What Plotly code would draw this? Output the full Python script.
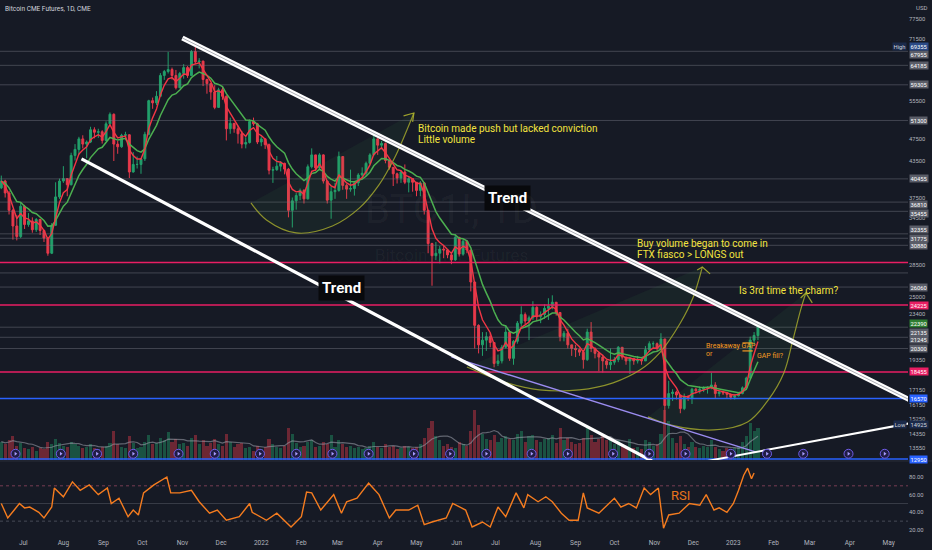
import math
import pandas as pd
import plotly.graph_objects as go

# ---------------- price series (3-day bars) ----------------
START = "2021-06-14"
FIRST_OPEN = 39000
closes = [
    40100, 38200, 35600, 33400, 32000, 36200, 33600, 34100, 32900, 34300,
    32800, 31800, 29900, 33500, 37600, 40100, 40500, 39500, 44500, 45600,
    47600, 46600, 47000, 49400, 48900, 49000, 47300, 50600, 52600, 46600,
    46100, 48300, 48400, 41600, 42900, 42900, 43900, 48500, 55600, 55100,
    56600, 61600, 62600, 63100, 61600, 58600, 62100, 63600, 61600, 67900,
    65100, 65300, 60600, 59600, 57600, 54100, 58100, 56600, 49600, 50700,
    49600, 48600, 46600, 46900, 51100, 50600, 47000, 47600, 46500, 41900,
    42000, 42600, 43100, 42100, 35600, 37000, 37800, 38600, 37300, 42500,
    44600, 42300, 44600, 40100, 37100, 38400, 38600, 44300, 39400, 38800,
    38900, 39800, 41100, 41400, 43100, 44600, 47600, 46400, 46700, 43600,
    42400, 41300, 40600, 41600, 39900, 40500, 39900, 38600, 39800, 35600,
    31100, 29600, 29900, 30400, 30300, 29700, 29100, 31900, 29800, 31400,
    30300, 26600, 22300, 20600, 21000, 21300, 20800, 19100, 19300, 20400,
    21700, 19500, 20900, 22500, 23300, 22700, 23000, 24000, 23100, 23300,
    23900, 24100, 24500, 23500, 21300, 21600, 20600, 20300, 20200, 20000,
    19400, 21700, 20300, 19900, 19600, 19300, 19000, 19200, 19400, 20400,
    19600, 19300, 19500, 19300, 19400, 19300, 20200, 20700, 20700, 20300,
    21100, 16100, 16900, 17000, 16800, 15900, 16700, 16600, 17200, 17100,
    17200, 17300, 17300, 17500, 16900, 17000, 16950, 16850, 16650, 16750,
    16900, 17300, 18000, 21000, 21400, 22390,
]
highs = [
    41000, 40300, 38500, 35800, 34900, 36800, 36400, 35200, 34600, 34500,
    34400, 32900, 31900, 33800, 39900, 40500, 42600, 40600, 45000, 46600,
    48000, 48300, 47300, 50000, 49900, 49600, 49300, 51100, 53000, 52800,
    47200, 48600, 49000, 48500, 45100, 44300, 44000, 49000, 55800, 56300,
    57800, 62200, 63000, 67800, 63600, 63000, 62500, 64500, 64000, 68300,
    69355, 66100, 65400, 60800, 59700, 59200, 58600, 59000, 56800, 51900,
    50800, 50200, 49100, 47900, 51500, 51900, 50800, 48100, 47700, 46700,
    42500, 44400, 43500, 43200, 42300, 37500, 38200, 38900, 38800, 42900,
    45800, 44600, 44900, 44700, 40200, 39200, 39800, 45200, 44300, 39600,
    42000, 40000, 41400, 42400, 43400, 44900, 48300, 47800, 47200, 46900,
    43600, 42400, 41500, 41800, 42900, 40800, 40600, 39900, 40100, 39900,
    35600, 31200, 31300, 30800, 30800, 30300, 29900, 32300, 31900, 31600,
    31500, 30300, 26600, 22400, 21700, 21700, 21600, 20800, 19800, 20600,
    22300, 21700, 21000, 22700, 24100, 23500, 23200, 24600, 24100, 23600,
    24300, 24900, 25200, 24500, 23500, 21800, 22000, 20600, 20600, 20300,
    20100, 22000, 22600, 20400, 20000, 19800, 19400, 20300, 19600, 20500,
    20400, 19600, 19600, 19500, 19700, 19500, 20500, 20900, 20900, 20800,
    21600, 21100, 17800, 17200, 17100, 16800, 16900, 16800, 17300, 17300,
    17400, 17400, 17400, 18400, 17700, 17100, 17100, 17000, 16900, 16850,
    16950, 17400, 18100, 21300, 21700, 22600,
]
lows = [
    38800, 37500, 35000, 31600, 31500, 31800, 33000, 33300, 32500, 32600,
    32200, 31300, 29600, 29800, 33400, 37300, 39800, 37700, 39400, 43600,
    44600, 45800, 44000, 46800, 47700, 47800, 46700, 47200, 50400, 43500,
    44800, 45900, 47300, 40600, 41500, 42200, 41300, 43500, 48300, 53800,
    54600, 56500, 60500, 62100, 60600, 58200, 58500, 60800, 61000, 61500,
    64500, 63400, 59000, 57200, 55800, 53700, 54000, 55800, 47300, 48600,
    48800, 46700, 45800, 45800, 46700, 50200, 46600, 46200, 45700, 41200,
    39800, 41800, 41700, 41200, 34600, 33200, 35700, 37100, 36600, 37200,
    42200, 41800, 41900, 39700, 36600, 34400, 37300, 38400, 38700, 37300,
    38400, 37800, 39300, 40800, 40900, 43000, 44600, 44600, 45600, 43100,
    42000, 39300, 39700, 39800, 39600, 38300, 38400, 37700, 37700, 35000,
    29900, 26200, 29100, 28700, 29300, 29300, 28600, 29000, 29500, 29600,
    29900, 25600, 20300, 19900, 19700, 20100, 20400, 18800, 18900, 19100,
    20300, 19300, 19000, 20700, 22200, 22400, 21000, 22800, 22700, 22500,
    22900, 22800, 23800, 23200, 20900, 20900, 20300, 19700, 19600, 19700,
    18700, 19300, 20000, 19500, 18500, 18400, 18700, 18600, 19000, 19200,
    19400, 19000, 18300, 19000, 19100, 19000, 19300, 20000, 20300, 20100,
    20300, 14925, 15900, 16400, 16500, 15600, 15800, 16400, 16200, 16900,
    16900, 17000, 16900, 17200, 16600, 16700, 16800, 16600, 16500, 16500,
    16700, 16850, 17200, 18000, 20600, 21000,
]
volume_k = [
    14, 12, 15, 18, 11, 13, 9, 8, 10, 7, 9, 8, 14, 12, 16, 13,
    11, 10, 14, 12, 11, 9, 10, 12, 9, 8, 10,
    11, 13, 22, 12, 10, 9, 18, 13, 9, 10,
    14, 19, 12, 13, 17, 15, 21, 14, 16, 12,
    13, 11, 17, 19, 12, 15, 11, 13, 16, 12, 11,
    20, 14, 10, 12, 13, 9, 10, 7, 11,
    8, 10, 16, 12, 10, 9, 11, 24, 20, 13, 10,
    11, 14, 15, 10, 11, 14, 12, 19, 10,
    15, 12, 10, 11, 9, 10, 8, 9, 11, 14, 10,
    9, 12, 10, 11, 8, 9, 11, 10, 9, 10,
    12, 17, 24, 30, 18, 15, 11, 12, 10, 9, 14, 12, 11,
    22, 38, 27, 20, 16, 15, 19,
    14, 17, 18, 16, 15, 20, 22, 14, 18, 19, 15,
    14, 16, 17, 19, 13, 24, 15, 17, 14, 12,
    13, 17, 25, 19, 14, 16, 18, 15, 17,
    12, 15, 11, 10, 16, 9, 10, 8, 15, 14, 11,
    12, 20, 38, 30, 17, 13, 18, 12, 10, 14,
    10, 9, 11, 10, 15, 10, 8, 7, 9, 8,
    9, 11, 14, 18, 28, 22, 24,
]

# ---------------- RSI (14) ----------------
rsi_dates = [
    "2021-06-14", "2021-06-19", "2021-06-24", "2021-06-28", "2021-07-02", "2021-07-06",
    "2021-07-13", "2021-07-17", "2021-07-23", "2021-07-25", "2021-08-01", "2021-08-08",
    "2021-08-14", "2021-08-21", "2021-08-28", "2021-09-04", "2021-09-07", "2021-09-13",
    "2021-09-20", "2021-09-24", "2021-09-28", "2021-10-02", "2021-10-10", "2021-10-20",
    "2021-10-23", "2021-10-30", "2021-11-08", "2021-11-14", "2021-11-22", "2021-11-28",
    "2021-12-05", "2021-12-15", "2021-12-23", "2021-12-25",
    "2022-01-05", "2022-01-13", "2022-01-24", "2022-02-01", "2022-02-05", "2022-02-09",
    "2022-02-16", "2022-02-26", "2022-03-04", "2022-03-08", "2022-03-16", "2022-03-25",
    "2022-04-02", "2022-04-10", "2022-04-15", "2022-04-25", "2022-05-02", "2022-05-07",
    "2022-05-13", "2022-05-24", "2022-05-29", "2022-06-08", "2022-06-13", "2022-06-21",
    "2022-06-27", "2022-07-03", "2022-07-09", "2022-07-17", "2022-07-23", "2022-07-26",
    "2022-08-03", "2022-08-09", "2022-08-14", "2022-08-21", "2022-08-27", "2022-09-03",
    "2022-09-07", "2022-09-10", "2022-09-19", "2022-10-01", "2022-10-06", "2022-10-12",
    "2022-10-18", "2022-10-24", "2022-10-29", "2022-11-04", "2022-11-08", "2022-11-12",
    "2022-11-20", "2022-11-28", "2022-12-06", "2022-12-11", "2022-12-17", "2022-12-21",
    "2022-12-27", "2023-01-01", "2023-01-05", "2023-01-09", "2023-01-12", "2023-01-15",
    "2023-01-17",
]
rsi_values = [
    50, 33.6, 42.6, 50, 45, 46, 40, 33.6, 46, 67.5, 57.6, 74.5, 65, 71, 60, 67.5, 50,
    56, 35, 42.6, 37, 62, 71, 80, 62, 62, 65, 52, 39, 42.6, 31, 35, 50, 40,
    31, 39, 23.4, 35, 63, 62, 42.6, 60, 39, 52, 56, 73, 60, 33.6, 42.6, 42.6, 48,
    26, 29, 33.6, 50, 42.6, 23.4, 29, 23.4, 46, 35, 62, 45, 60, 52, 57.6, 52, 39,
    31, 31, 62, 45, 39, 56, 46, 50, 45, 67.5, 60, 67.5, 22, 37, 39, 50, 48, 60,
    42.6, 45, 40, 50, 65, 82, 90, 78, 84.5,
]

# contract expiries (last Friday of each month)
expiry_dates = [
    "2021-06-25", "2021-07-30", "2021-08-27", "2021-09-24", "2021-10-29", "2021-11-26",
    "2021-12-31", "2022-01-28", "2022-02-25", "2022-03-25", "2022-04-29", "2022-05-27",
    "2022-06-24", "2022-07-29", "2022-08-26", "2022-09-30", "2022-10-28", "2022-11-25",
    "2022-12-30", "2023-01-27", "2023-02-24", "2023-03-31", "2023-04-28",
]

# ---------------- horizontal levels ----------------
gray_levels = [67955, 64185, 59305, 51300, 40455, 36810, 35455, 32355, 31775, 30880,
               27600, 26060, 22135, 21245, 20300]
pink_levels = [28800, 24225, 18455]
blue_levels = [16570, 12950]
last_price = 22390
range_high = 69355
range_low = 14925
price_ticks = [77500, 71500, 55500, 47500, 43500, 37500, 34500, 28500, 25000, 23400,
               19350, 17150, 16150, 15250, 14350, 13550]
rsi_ticks = [80, 60, 40, 20]

# ---------------- drawings ----------------
upper_trend = (["2021-11-01", "2023-05-19"], [71740, 16400])
lower_trend = (["2021-08-15", "2022-10-30"], [43870, 12850])
rising_line = (["2022-12-12", "2023-05-19"], [12850, 15000])
purple_line = (["2022-05-28", "2023-01-18"], [19620, 13330])

arc1 = (["2021-12-24", "2022-01-05", "2022-01-28", "2022-02-25", "2022-03-18",
         "2022-04-02", "2022-04-14", "2022-04-21", "2022-04-29"],
        [36680, 34230, 32470, 33400, 35950, 39470, 44040, 47780, 52890])
arc1_head = (["2022-04-21", "2022-04-29", "2022-04-28"], [52250, 52890, 50990])
arc2 = (["2022-06-09", "2022-07-10", "2022-08-04", "2022-09-04", "2022-09-30",
         "2022-10-21", "2022-11-05", "2022-11-21", "2022-12-01", "2022-12-08"],
        [18830, 17650, 17150, 17150, 17650, 18610, 19940, 22520, 25030, 28280])
arc2_head = (["2022-12-04", "2022-12-08", "2022-12-14"], [27940, 28280, 27490])
arc3 = (["2022-10-27", "2022-11-13", "2022-12-17", "2023-01-12", "2023-01-28",
         "2023-02-09", "2023-02-16", "2023-02-22", "2023-02-26"],
        [15370, 14880, 14580, 15060, 16470, 18380, 21020, 23750, 25440])
arc3_head = (["2023-02-22", "2023-02-26", "2023-03-03"], [24930, 25440, 24430])
gap_top = (["2023-01-08", "2023-01-16"], [20760, 20760])
gap_bottom = (["2023-01-08", "2023-01-16"], [20100, 20100])

notes = [
    # (date, price, text, colour, size)
    ("2022-05-01", 49560, "Bitcoin made push but lacked conviction", "#f2e33f", 10),
    ("2022-05-01", 47390, "Little volume", "#f2e33f", 10),
    ("2022-10-17", 31050, "Buy volume began to come in", "#f2e33f", 10),
    ("2022-10-17", 29780, "FTX fiasco &gt; LONGS out", "#f2e33f", 10),
    ("2023-01-04", 25680, "Is 3rd time the charm?", "#f2e33f", 10),
    ("2022-12-09", 20510, "Breakaway GAP", "#f59b23", 7),
    ("2022-12-09", 19890, "or", "#f59b23", 7),
    ("2023-01-18", 19700, "GAP fill?", "#f59b23", 7),
]
trend_tags = [("2022-07-10", 37440), ("2022-03-04", 25970)]
rsi_tag = ("2022-11-21", 59.6)

# ---------------- derived ----------------
dates = pd.date_range(START, periods=len(closes), freq="3D")
opens = [FIRST_OPEN] + closes[:-1]
ema_fast = pd.Series(closes).ewm(span=4, adjust=False).mean()
ema_slow = pd.Series(closes).ewm(span=10, adjust=False).mean()
vol_ma = pd.Series(volume_k).rolling(7, min_periods=1).mean()

month_ticks = pd.date_range("2021-07-01", "2023-05-01", freq="MS")
month_labels = [d.strftime("%b") if d.month != 1 else str(d.year) for d in month_ticks]

# ---------------- style ----------------
BG = "#161a25"
FONT = "Roboto"
UP = "#22a06b"
DOWN = "#e8394b"
X0, X1 = "2021-06-13", "2023-05-16"
P_TOP, P_BOTTOM = 83720, 12900
PRICE_DOM = [0.1434, 1.0]
RSI_DOM = [0.0, 0.1397]
EXPIRY_PRICE = 13230
TAG_SIZE = 5.8

fig = go.Figure()

# volume (primary y, drawn underneath the price overlay)
vol_colors = ["rgba(34,160,107,0.42)" if c >= o else "rgba(232,57,75,0.42)"
              for o, c in zip(opens, closes)]
fig.add_trace(go.Bar(x=dates, y=volume_k, marker=dict(color=vol_colors, line_width=0),
                     width=3 * 86400000 * 0.8, xaxis="x", yaxis="y"))
fig.add_trace(go.Scatter(x=dates, y=vol_ma, mode="lines",
                         line=dict(color="rgba(150,153,165,0.6)", width=1.2),
                         xaxis="x", yaxis="y"))

def price_line(xs, ys, color, width, dash=None, shape="linear", fill=None, fillcolor=None):
    fig.add_trace(go.Scatter(x=xs, y=ys, mode="lines",
                             line=dict(color=color, width=width, dash=dash, shape=shape),
                             fill=fill, fillcolor=fillcolor,
                             xaxis="x", yaxis="y3"))

for lvl in gray_levels:
    price_line([X0, X1], [lvl, lvl], "rgba(120,123,134,0.45)", 1)
for lvl in pink_levels:
    price_line([X0, X1], [lvl, lvl], "#e91e63", 1.5)
for lvl in blue_levels:
    price_line([X0, X1], [lvl, lvl], "#2962ff", 1.5)

# curved "cup" drawings with faint fill
for arc in (arc1, arc2, arc3):
    price_line(arc[0], arc[1], "rgba(170,175,45,0.8)", 1.2, shape="spline",
               fill="toself", fillcolor="rgba(76,175,80,0.07)")
for head in (arc1_head, arc2_head, arc3_head):
    price_line(head[0], head[1], "rgba(170,175,45,0.9)", 1.2)

fig.add_trace(go.Candlestick(
    x=dates, open=opens, high=highs, low=lows, close=closes,
    increasing=dict(line=dict(color=UP, width=1), fillcolor=UP),
    decreasing=dict(line=dict(color=DOWN, width=1), fillcolor=DOWN),
    whiskerwidth=0, xaxis="x", yaxis="y3"))
price_line(dates, ema_slow, "#4caf50", 1.5)
price_line(dates, ema_fast, "#f23645", 1.4)

price_line(purple_line[0], purple_line[1], "#9b8cf0", 1.4)
price_line(gap_top[0], gap_top[1], "#f59b23", 1.2)
price_line(gap_bottom[0], gap_bottom[1], "#f59b23", 1.2)

# trend lines
price_line(upper_trend[0], upper_trend[1], "#ffffff", 5)
price_line(upper_trend[0], upper_trend[1], "#a9abb3", 1)
price_line(lower_trend[0], lower_trend[1], "#ffffff", 3.2)
price_line(rising_line[0], rising_line[1], "#ffffff", 2)

# expiry markers
fig.add_trace(go.Scatter(x=expiry_dates, y=[EXPIRY_PRICE] * len(expiry_dates), mode="markers",
                         marker=dict(symbol="circle", size=9, color="#201d44",
                                     line=dict(color="#6f5ce6", width=1)),
                         xaxis="x", yaxis="y3"))
fig.add_trace(go.Scatter(x=expiry_dates, y=[EXPIRY_PRICE] * len(expiry_dates), mode="markers",
                         marker=dict(symbol="triangle-right", size=3.5, color="#a99cff"),
                         xaxis="x", yaxis="y3"))

# RSI pane
for lvl, col, dash in ((70, "rgba(200,90,120,0.55)", "dot"),
                       (50, "rgba(120,123,134,0.35)", "solid"),
                       (30, "rgba(120,123,134,0.5)", "dot")):
    fig.add_trace(go.Scatter(x=[X0, X1], y=[lvl, lvl], mode="lines",
                             line=dict(color=col, width=1, dash=dash),
                             xaxis="x2", yaxis="y2"))
fig.add_trace(go.Scatter(x=rsi_dates, y=rsi_values, mode="lines",
                         line=dict(color="#f57c1f", width=1.4),
                         xaxis="x2", yaxis="y2"))

# ---------------- annotations ----------------
ann = []
L = math.log10

def axis_tag(value, bg, text=None, yshift=0, anchor="left", fg="#ffffff"):
    ann.append(dict(xref="paper", x=1, xanchor=anchor, xshift=1 if anchor == "left" else -1,
                    yref="y3", y=L(value), yshift=yshift, text=text or str(value),
                    showarrow=False, bgcolor=bg, borderpad=0.5,
                    font=dict(family=FONT, size=TAG_SIZE, color=fg)))

shifts = {67955: -3, 36810: -2, 35455: -2, 32355: 4, 22135: -5, 21245: -2}
for lvl in gray_levels:
    if lvl == 27600:
        continue
    axis_tag(lvl, "#5a5d68", yshift=shifts.get(lvl, 0))
for lvl in pink_levels[1:]:
    axis_tag(lvl, "#e91e63")
for lvl in blue_levels:
    axis_tag(lvl, "#2962ff")
axis_tag(last_price, "#2e7d32", yshift=1)
axis_tag(range_high, "#2b4a86")
axis_tag(range_high, "#1b2a4a", text="High", anchor="right", fg="#d1d4dc")
axis_tag(range_low, "#1b2a4a", fg="#d1d4dc")
axis_tag(range_low, "#1b2a4a", text="Low", anchor="right", fg="#d1d4dc")

for d, p, t, c, s in notes:
    ann.append(dict(xref="x", yref="y3", x=d, y=L(p), text=t, showarrow=False,
                    xanchor="left", yanchor="middle",
                    font=dict(family=FONT, size=s, color=c)))
for d, p in trend_tags:
    ann.append(dict(xref="x", yref="y3", x=d, y=L(p), text="<b>Trend</b>", showarrow=False,
                    bgcolor="#08090c", borderpad=3,
                    font=dict(family=FONT, size=15, color="#ffffff")))
ann.append(dict(xref="x2", yref="y2", x=rsi_tag[0], y=rsi_tag[1], text="RSI", showarrow=False,
                font=dict(family=FONT, size=13, color="#e8741c")))

# watermark, title, currency
ann.append(dict(xref="paper", yref="paper", x=0.497, y=0.61, text="BTC1!, 1D", showarrow=False,
                font=dict(family=FONT, size=40, color="rgba(255,255,255,0.045)")))
ann.append(dict(xref="paper", yref="paper", x=0.497, y=0.525, text="Bitcoin CME Futures",
                showarrow=False, font=dict(family=FONT, size=17, color="rgba(255,255,255,0.045)")))
ann.append(dict(xref="paper", yref="paper", x=0, y=1, xanchor="left", yanchor="top",
                xshift=3, yshift=-3, text="Bitcoin CME Futures, 1D, CME", showarrow=False,
                font=dict(family=FONT, size=6.5, color="#d1d4dc")))
ann.append(dict(xref="paper", yref="paper", x=1, y=1, xanchor="left", yanchor="top",
                xshift=6, yshift=-2, text="USD", showarrow=False,
                font=dict(family=FONT, size=6, color="#b2b5be")))

fig.update_layout(
    width=932, height=550,
    margin=dict(l=0, r=24, t=0, b=13),
    paper_bgcolor=BG, plot_bgcolor=BG,
    showlegend=False, hovermode=False,
    bargap=0,
    annotations=ann,
    shapes=[dict(type="line", xref="paper", yref="paper", x0=0, x1=1.03,
                 y0=0.1416, y1=0.1416, line=dict(color="#2a2e39", width=1))],
    xaxis=dict(domain=[0, 1], anchor="y", range=[X0, X1], showticklabels=False,
               showgrid=False, zeroline=False, rangeslider=dict(visible=False)),
    xaxis2=dict(domain=[0, 1], anchor="y2", matches="x", range=[X0, X1],
                tickvals=month_ticks, ticktext=month_labels, ticks="",
                tickfont=dict(family=FONT, size=6.5, color="#b2b5be"),
                showgrid=False, zeroline=False, showline=False),
    yaxis=dict(domain=PRICE_DOM, range=[0, 350], visible=False, fixedrange=True),
    yaxis3=dict(overlaying="y", anchor="x", side="right", type="log",
                range=[L(P_BOTTOM), L(P_TOP)],
                tickvals=price_ticks, ticktext=[str(v) for v in price_ticks], ticks="",
                tickfont=dict(family=FONT, size=TAG_SIZE, color="#b2b5be"),
                showgrid=False, zeroline=False, showline=False),
    yaxis2=dict(domain=RSI_DOM, anchor="x2", side="right", range=[12.05, 97],
                tickvals=rsi_ticks, ticktext=[f"{v:.2f}" for v in rsi_ticks], ticks="",
                tickfont=dict(family=FONT, size=TAG_SIZE, color="#b2b5be"),
                showgrid=False, zeroline=False, showline=False),
)

fig.write_html("out.html")
